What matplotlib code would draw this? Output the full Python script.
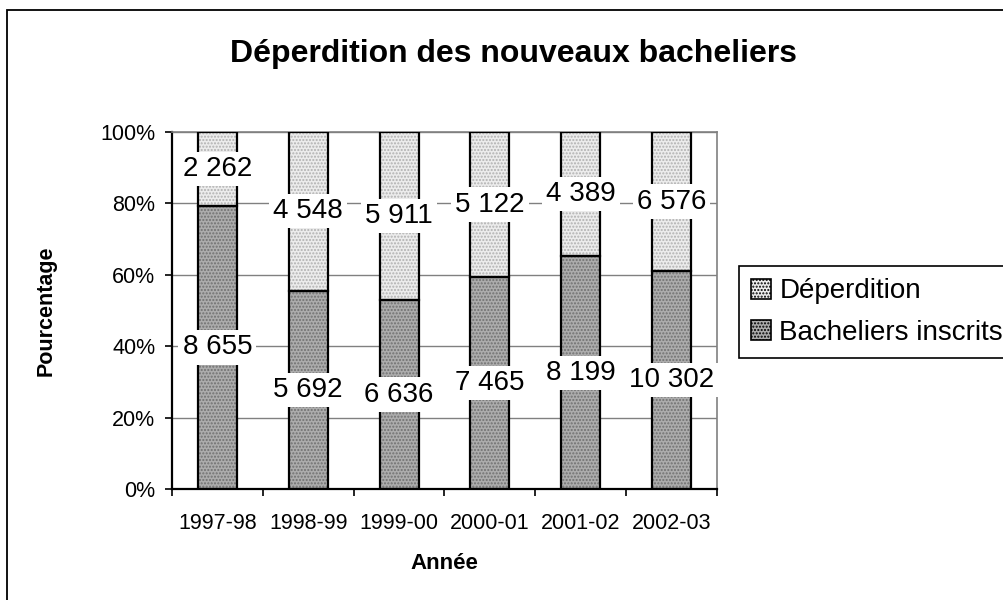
import matplotlib
matplotlib.use("Agg")
import matplotlib.pyplot as plt
from matplotlib.patches import Patch, Rectangle
import numpy as np

plt.rcParams['font.family'] = ['Liberation Sans', 'DejaVu Sans']

# data
annees = ['1997-98', '1998-99', '1999-00', '2000-01', '2001-02', '2002-03']
inscrits = [8655, 5692, 6636, 7465, 8199, 10302]
deperdition = [2262, 4548, 5911, 5122, 4389, 6576]
labels_inscrits = ['8 655', '5 692', '6 636', '7 465', '8 199', '10 302']
labels_deperdition = ['2 262', '4 548', '5 911', '5 122', '4 389', '6 576']

ins = np.array(inscrits, dtype=float)
dep = np.array(deperdition, dtype=float)
tot = ins + dep
p_ins = ins / tot * 100
p_dep = dep / tot * 100

c_dep = '#ececec'
c_ins = '#acacac'

fig = plt.figure(figsize=(10.04, 6.0), dpi=100)
ax = fig.add_axes([0.1713, 0.185, 0.5428, 0.595])

x = np.arange(len(annees))
w = 0.43

# filled + dotted pass
ax.bar(x, p_ins, w, color=c_ins, edgecolor='#707070', hatch='.....', linewidth=0, zorder=2)
ax.bar(x, p_dep, w, bottom=p_ins, color=c_dep, edgecolor='#b0b0b0', hatch='.....', linewidth=0, zorder=2)
# outlines
ax.bar(x, p_ins, w, fill=False, edgecolor='black', linewidth=1.6, zorder=3)
ax.bar(x, p_dep, w, bottom=p_ins, fill=False, edgecolor='black', linewidth=1.6, zorder=3)

box = dict(facecolor='white', edgecolor='none', pad=3)
for i in range(len(annees)):
    ax.text(x[i], p_ins[i] / 2, labels_inscrits[i], ha='center', va='center',
            fontsize=20, bbox=box, zorder=5)
    ax.text(x[i], p_ins[i] + p_dep[i] / 2, labels_deperdition[i], ha='center', va='center',
            fontsize=20, bbox=box, zorder=5)

ax.set_xlim(-0.5, len(annees) - 0.5)
ax.set_ylim(0, 100)
ax.set_yticks(np.arange(0, 101, 20))
ax.set_yticklabels([f'{v}%' for v in range(0, 101, 20)], fontsize=15.5)
ax.set_xticks(x)
ax.set_xticklabels(annees, fontsize=15.5)
ax.set_xticks(np.arange(-0.5, len(annees)), minor=True)
ax.tick_params(axis='x', which='major', length=0, pad=17)
ax.tick_params(axis='x', which='minor', length=5, width=1.2, direction='out')
ax.tick_params(axis='y', length=5, width=1.2, direction='out', pad=7)

ax.yaxis.grid(True, color='#808080', linewidth=1)
ax.set_axisbelow(True)
for s in ['top', 'right']:
    ax.spines[s].set_color('#808080')
    ax.spines[s].set_linewidth(1.2)
for s in ['left', 'bottom']:
    ax.spines[s].set_color('black')
    ax.spines[s].set_linewidth(1.6)

ax.set_ylabel('Pourcentage', fontsize=15.5, fontweight='bold')
ax.yaxis.set_label_coords(-0.212, 0.5)
ax.set_xlabel('Année', fontsize=16, fontweight='bold')
ax.xaxis.set_label_coords(0.5, -0.18)

fig.text(0.511, 0.91, 'Déperdition des nouveaux bacheliers', ha='center', va='center',
         fontsize=23, fontweight='bold')

handles = [Patch(facecolor=c_dep, edgecolor='black', hatch='.....', linewidth=1.2),
           Patch(facecolor=c_ins, edgecolor='black', hatch='.....', linewidth=1.2)]
leg = fig.legend(handles, ['Déperdition', 'Bacheliers inscrits'], loc='upper left',
                 bbox_to_anchor=(739 / 1004, 1 - 266 / 600), borderaxespad=0,
                 fontsize=20, fancybox=False, handlelength=0.7, handleheight=0.7,
                 handletextpad=0.3, labelspacing=0.55, borderpad=0.45, framealpha=1)
leg.get_frame().set_edgecolor('black')
leg.get_frame().set_linewidth(1.2)

# outer border of the chart area
fig.patches.append(Rectangle((7 / 1004, -0.01), 1.0, 1 - 10 / 600 + 0.01, transform=fig.transFigure,
                             fill=False, edgecolor='black', linewidth=1.3))

fig.savefig('out.png', dpi=100)
